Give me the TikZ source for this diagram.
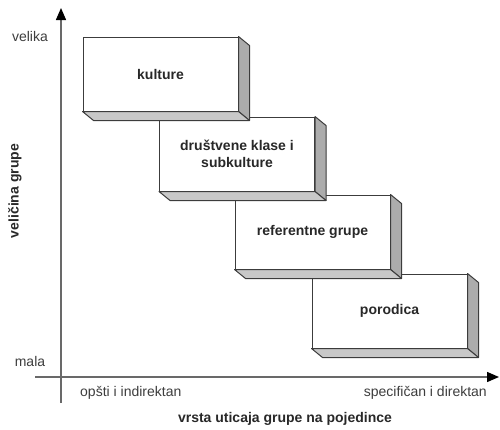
\documentclass[tikz,border=0pt]{standalone}
\usepackage{fontspec}
\setmainfont{Liberation Sans}
\usetikzlibrary{arrows.meta, positioning}
\definecolor{ivica}{RGB}{60,60,60}
\definecolor{bokboja}{RGB}{172,172,172}
\definecolor{dnoboja}{RGB}{200,200,200}
\definecolor{osa}{RGB}{105,105,105}
\definecolor{tekst}{RGB}{40,40,40}

\begin{document}
\begin{tikzpicture}[x=1pt, y=-1pt,
    blok/.style={rectangle, draw=ivica, line width=1pt, fill=white,
                 minimum width=155pt, minimum height=74pt,
                 align=center, text=tekst, inner sep=2pt,
                 font=\fontsize{14}{17}\selectfont\bfseries},
    bok/.style={draw=ivica, line width=1pt, fill=bokboja,
                line join=round},
    dno/.style={draw=ivica, line width=1pt, fill=dnoboja,
                line join=round},
    oznaka/.style={text=tekst!90, inner sep=0pt,
                   font=\fontsize{14}{16}\selectfont},
    naslov/.style={text=tekst, inner sep=0pt,
                   font=\fontsize{14}{16}\selectfont\bfseries},
    strela/.style={-{Triangle[length=12pt,width=10pt,color=black]},
                   draw=osa, line width=1.4pt},
]
\useasboundingbox (0,0) rectangle (500,429);

% ==========================================================
% Axes
% ==========================================================
\coordinate (ydno)   at (61,403);
\coordinate (yvrh)   at (61,8);
\coordinate (xlevo)  at (35,377);
\coordinate (xdesno) at (499,377);
\draw[strela] (ydno) -- (yvrh);
\draw[strela] (xlevo) -- (xdesno);

% ==========================================================
% Boxes, drawn back to front
% ==========================================================
\node[blok] (porodica) at (389.5,311) {porodica};
\filldraw[bok] (porodica.north east) -- ([shift={(11,9)}]porodica.north east)
    -- ([shift={(11,9)}]porodica.south east) -- (porodica.south east) -- cycle;
\filldraw[dno] (porodica.south west) -- (porodica.south east)
    -- ([shift={(11,9)}]porodica.south east)
    -- ([shift={(11,9)}]porodica.south west) -- cycle;

\node[blok] (referentne) at (312.5,232) {referentne grupe};
\filldraw[bok] (referentne.north east) -- ([shift={(11,9)}]referentne.north east)
    -- ([shift={(11,9)}]referentne.south east) -- (referentne.south east) -- cycle;
\filldraw[dno] (referentne.south west) -- (referentne.south east)
    -- ([shift={(11,9)}]referentne.south east)
    -- ([shift={(11,9)}]referentne.south west) -- cycle;

\node[blok] (klase) at (237,154) {društvene klase i\\subkulture};
\filldraw[bok] (klase.north east) -- ([shift={(11,9)}]klase.north east)
    -- ([shift={(11,9)}]klase.south east) -- (klase.south east) -- cycle;
\filldraw[dno] (klase.south west) -- (klase.south east)
    -- ([shift={(11,9)}]klase.south east)
    -- ([shift={(11,9)}]klase.south west) -- cycle;

\node[blok] (kulture) at (160.5,74) {kulture};
\filldraw[bok] (kulture.north east) -- ([shift={(11,9)}]kulture.north east)
    -- ([shift={(11,9)}]kulture.south east) -- (kulture.south east) -- cycle;
\filldraw[dno] (kulture.south west) -- (kulture.south east)
    -- ([shift={(11,9)}]kulture.south east)
    -- ([shift={(11,9)}]kulture.south west) -- cycle;

% ==========================================================
% Axis labels
% ==========================================================
\node[oznaka] (velika) at (30,36) {velika};
\node[oznaka] (mala)   at (30,361) {mala};
\node[oznaka, anchor=west] (opsti) at (80,393) {opšti i indirektan};
\node[oznaka, anchor=east] (specif) at (487,393) {specifičan i direktan};
\node[naslov] (vrsta) at (285,419) {vrsta uticaja grupe na pojedince};
\node[naslov, rotate=90] (velicina) at (15,191) {veličina grupe};

\end{tikzpicture}
\end{document}
